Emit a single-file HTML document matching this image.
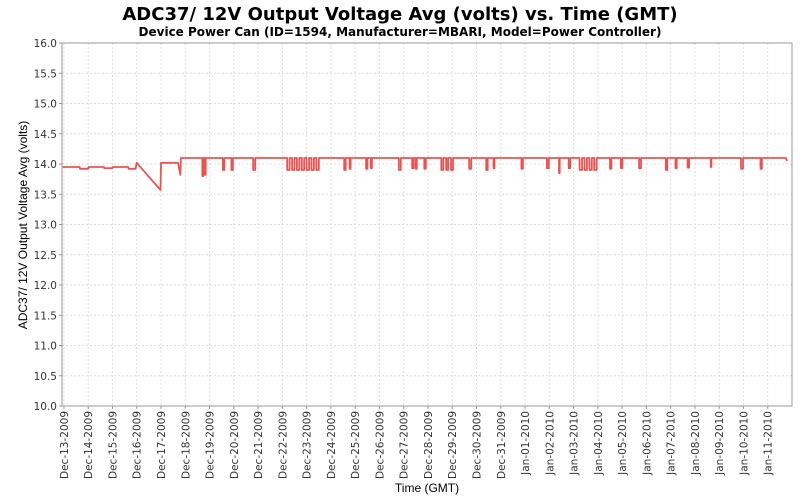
<!DOCTYPE html>
<html><head><meta charset="utf-8">
<style>
body{margin:0;background:#fff;}
svg{display:block;font-family:"DejaVu Sans","Liberation Sans",sans-serif;}
</style></head>
<body>
<svg id="chart" width="800" height="500" viewBox="0 0 800 500">
<text x="400" y="20" text-anchor="middle" font-size="18" font-weight="bold" fill="#000">ADC37/ 12V Output Voltage Avg (volts) vs. Time (GMT)</text>
<text x="400" y="36" text-anchor="middle" font-size="12" font-weight="bold" fill="#000">Device Power Can (ID=1594, Manufacturer=MBARI, Model=Power Controller)</text>
<g id="grid"></g>
<g id="yaxis"></g>
<g id="xaxis"></g>
<path id="series" fill="none" stroke="#e85454" stroke-width="1.8" stroke-linejoin="round"></path>
<rect x="62" y="43" width="730" height="363" fill="none" stroke="#999" stroke-width="1"></rect>
<text transform="translate(27,225) rotate(-90)" text-anchor="middle" font-size="12" font-family="Liberation Sans,sans-serif">ADC37/ 12V Output Voltage Avg (volts)</text>
<text x="427" y="492" text-anchor="middle" font-size="12" font-family="Liberation Sans,sans-serif">Time (GMT)</text>
</svg>
<script>
const yTicks=[10.0,10.5,11.0,11.5,12.0,12.5,13.0,13.5,14.0,14.5,15.0,15.5,16.0];
const xTickLabels=["Dec-13-2009","Dec-14-2009","Dec-15-2009","Dec-16-2009","Dec-17-2009","Dec-18-2009","Dec-19-2009","Dec-20-2009","Dec-21-2009","Dec-22-2009","Dec-23-2009","Dec-24-2009","Dec-25-2009","Dec-26-2009","Dec-27-2009","Dec-28-2009","Dec-29-2009","Dec-30-2009","Dec-31-2009","Jan-01-2010","Jan-02-2010","Jan-03-2010","Jan-04-2010","Jan-05-2010","Jan-06-2010","Jan-07-2010","Jan-08-2010","Jan-09-2010","Jan-10-2010","Jan-11-2010"];
// early segment (days since Dec-13-2009)
const earlyDays =[-0.05,0.65,0.66,1.0,1.01,1.65,1.66,2.0,2.01,2.65,2.66,2.95,3.0,3.98,4.0,4.7,4.8,4.82];
const earlyVolts=[13.95,13.95,13.92,13.92,13.95,13.95,13.93,13.93,13.95,13.95,13.92,13.92,14.02,13.57,14.02,14.02,13.82,14.1];
const baseVolt=14.1;
const dipDays=[5.7,5.8,6.55,6.9,7.8,9.2,9.4,9.6,9.8,10.0,10.2,10.4,11.55,11.77,12.45,12.65,13.8,14.35,14.5,14.85,15.55,15.75,15.95,16.7,17.4,17.7,18.85,19.9,20.4,20.8,21.25,21.45,21.65,21.85,22.5,22.95,23.7,24.8,25.2,25.7,26.65,27.9,28.7];
const dipVolts=[13.8,13.82,13.9,13.9,13.9,13.9,13.9,13.9,13.9,13.9,13.9,13.9,13.9,13.92,13.92,13.93,13.9,13.93,13.92,13.92,13.9,13.9,13.9,13.92,13.9,13.93,13.92,13.93,13.85,13.93,13.9,13.9,13.9,13.9,13.92,13.93,13.93,13.9,13.93,13.94,13.95,13.92,13.92];
const dipDurations=[0.04,0.04,0.06,0.06,0.08,0.1,0.1,0.1,0.1,0.1,0.1,0.1,0.06,0.04,0.06,0.04,0.08,0.06,0.04,0.06,0.08,0.08,0.08,0.08,0.06,0.04,0.06,0.08,0.03,0.06,0.1,0.1,0.1,0.1,0.06,0.06,0.08,0.06,0.05,0.06,0.03,0.08,0.06];
const endDay=29.8, endVolt=14.05;

const NS="http://www.w3.org/2000/svg";
const L=62,R=792,T=43,B=406;
const yMin=10,yMax=16,dMin=-0.08,dMax=30.0;
function yScale(v){return B-(v-yMin)/(yMax-yMin)*(B-T);}
function xScale(d){return L+(d-dMin)/(dMax-dMin)*(R-L);}
const grid=document.getElementById('grid'),ya=document.getElementById('yaxis'),xa=document.getElementById('xaxis');
function mk(tag,attrs,parent){const e=document.createElementNS(NS,tag);for(const k in attrs)e.setAttribute(k,attrs[k]);parent.appendChild(e);return e;}
yTicks.forEach(v=>{
  const y=yScale(v);
  const g=mk('line',{x1:L,x2:R,y1:y,y2:y,stroke:'#ddd','stroke-dasharray':'2,2'},grid);
  
  
  const tk=mk('line',{x1:L-3,x2:L,y1:y,y2:y,stroke:'#999'},ya);
  
  
  const t=mk('text',{x:L-5,y:y+4,'text-anchor':'end','font-size':'10.5',fill:'#333'},ya);
  t.textContent=v.toFixed(1);
  
  
});
xTickLabels.forEach((s,i)=>{
  const x=xScale(i);
  const g=mk('line',{x1:x,x2:x,y1:T,y2:B,stroke:'#ddd','stroke-dasharray':'2,2'},grid);
  
  
  const tk=mk('line',{x1:x,x2:x,y1:B,y2:B+3,stroke:'#999'},xa);
  
  
  const t=mk('text',{transform:`translate(${x+4},${B+5}) rotate(-90)`,'text-anchor':'end','font-size':'10.5',fill:'#333'},xa);
  t.textContent=s;
  
  
});
function P(dy,v){return xScale(dy).toFixed(1)+','+yScale(v).toFixed(1);}
let d='';
earlyDays.forEach((dy,i)=>{d+=(i?'L':'M')+P(dy,earlyVolts[i]);});
dipDays.forEach((dy,i)=>{
  const e=dy+dipDurations[i];
  d+='L'+P(dy,baseVolt)+'L'+P(dy,dipVolts[i])+'L'+P(e,dipVolts[i])+'L'+P(e,baseVolt);
});
d+='L'+P(endDay-0.05,baseVolt)+'L'+P(endDay,endVolt);
document.getElementById('series').setAttribute('d',d);
</script>
</body></html>
